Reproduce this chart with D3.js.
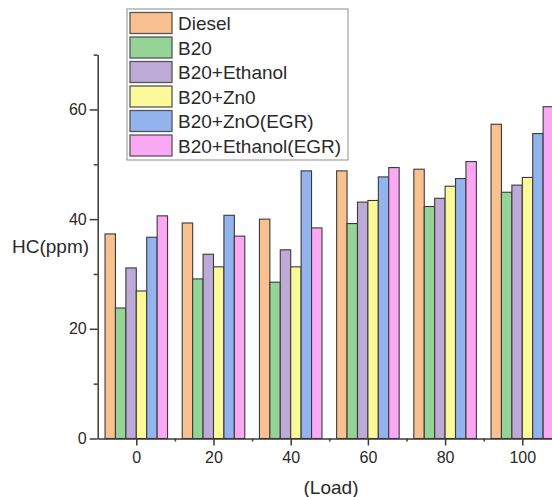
<!DOCTYPE html>
<html>
<head>
<meta charset="utf-8">
<script src="https://cdn.jsdelivr.net/npm/d3@7"></script>
<style>
  html, body { margin: 0; padding: 0; background: #fff; }
  svg { display: block; }
  text { font-family: "Liberation Sans", Arial, sans-serif; fill: #2a2a2a; }
</style>
</head>
<body>
<svg id="chart" width="552" height="497"></svg>
<script>
const loads = [0, 20, 40, 60, 80, 100];
const seriesNames = ["Diesel", "B20", "B20+Ethanol", "B20+Zn0", "B20+ZnO(EGR)", "B20+Ethanol(EGR)"];
const seriesColors = ["#f9c190", "#94d496", "#bdaad6", "#fbf99a", "#92b3ee", "#fba8f4"];
const diesel     = [37.3, 39.3, 40.0, 48.8, 49.1, 57.3];
const b20        = [23.8, 29.1, 28.5, 39.2, 42.3, 44.9];
const b20Eth     = [31.1, 33.6, 34.4, 43.1, 43.8, 46.2];
const b20ZnO     = [26.9, 31.3, 31.3, 43.4, 46.0, 47.6];
const b20ZnOEgr  = [36.7, 40.7, 48.8, 47.7, 47.4, 55.6];
const b20EthEgr  = [40.6, 36.9, 38.4, 49.4, 50.5, 60.5];
const seriesValues = [diesel, b20, b20Eth, b20ZnO, b20ZnOEgr, b20EthEgr];
const yMajorTicks = [0, 20, 40, 60];
const yMinorTicks = [10, 30, 50, 70];
const xMajorTicks = [0, 20, 40, 60, 80, 100];
const xMinorTicks = [10, 30, 50, 70, 90];

const svg = d3.select("#chart");
const x = d3.scaleLinear().domain([-10, 110]).range([97.7, 560.9]);
const y = d3.scaleLinear().domain([0, 70]).range([438.5, 54.6]);
const inner = d3.scaleBand().domain(seriesNames).range([-8.1, 8.1]).padding(0);

// bars
const data = [];
seriesNames.forEach((s, si) => {
  loads.forEach((l, li) => data.push({ s, si, load: l, v: seriesValues[si][li] }));
});
svg.append("g").selectAll("rect").data(data).join("rect")
  .attr("x", d => x(d.load + inner(d.s)))
  .attr("width", d => x(d.load + inner(d.s) + inner.bandwidth()) - x(d.load + inner(d.s)))
  .attr("y", d => y(d.v))
  .attr("height", d => y(0) - y(d.v))
  .attr("fill", d => seriesColors[d.si])
  .attr("stroke", "#3a3a3a")
  .attr("stroke-width", 1.1);

const axisColor = "#3a3a3a";
// y axis
const yAxis = svg.append("g").attr("transform", `translate(${x(-10)},0)`)
  .call(d3.axisLeft(y).tickValues(yMajorTicks).tickSize(8).tickPadding(3).tickSizeOuter(0));
svg.append("g").attr("transform", `translate(${x(-10)},0)`)
  .call(d3.axisLeft(y).tickValues(yMinorTicks).tickSize(4).tickFormat("").tickSizeOuter(0))
  .select(".domain").remove();
// x axis
const xAxis = svg.append("g").attr("transform", `translate(0,${y(0)})`)
  .call(d3.axisBottom(x).tickValues(xMajorTicks).tickSize(7).tickPadding(6).tickSizeOuter(0));
svg.append("g").attr("transform", `translate(0,${y(0)})`)
  .call(d3.axisBottom(x).tickValues(xMinorTicks).tickSize(3).tickFormat("").tickSizeOuter(0))
  .select(".domain").remove();

svg.selectAll(".domain").attr("stroke", axisColor).attr("stroke-width", 1.5);
svg.selectAll(".tick line").attr("stroke", axisColor).attr("stroke-width", 1.5);
svg.selectAll(".tick text").style("font-size", "16px").attr("fill", "#2a2a2a")
  .style("font-family", '"Liberation Sans", Arial, sans-serif');

// axis titles
svg.append("text").attr("x", 12).attr("y", 253).style("font-size", "19px").text("HC(ppm)");
svg.append("text").attr("x", 331).attr("y", 494).attr("text-anchor", "middle").style("font-size", "19px").text("(Load)");

// legend
const lg = svg.append("g");
lg.append("rect").attr("x", 127).attr("y", 9).attr("width", 221).attr("height", 151)
  .attr("fill", "#fff").attr("stroke", "#a0a0a0").attr("stroke-width", 1.2);
const rows = lg.selectAll("g.row").data(seriesNames).join("g").attr("class", "row")
  .attr("transform", (d, i) => `translate(130,${12.5 + i * 24.5})`);
rows.append("rect").attr("width", 42).attr("height", 21)
  .attr("fill", (d, i) => seriesColors[i]).attr("stroke", "#555").attr("stroke-width", 1.3);
rows.append("text").attr("x", 48).attr("y", 17.5).style("font-size", "19px").text(d => d);
</script>
</body>
</html>
